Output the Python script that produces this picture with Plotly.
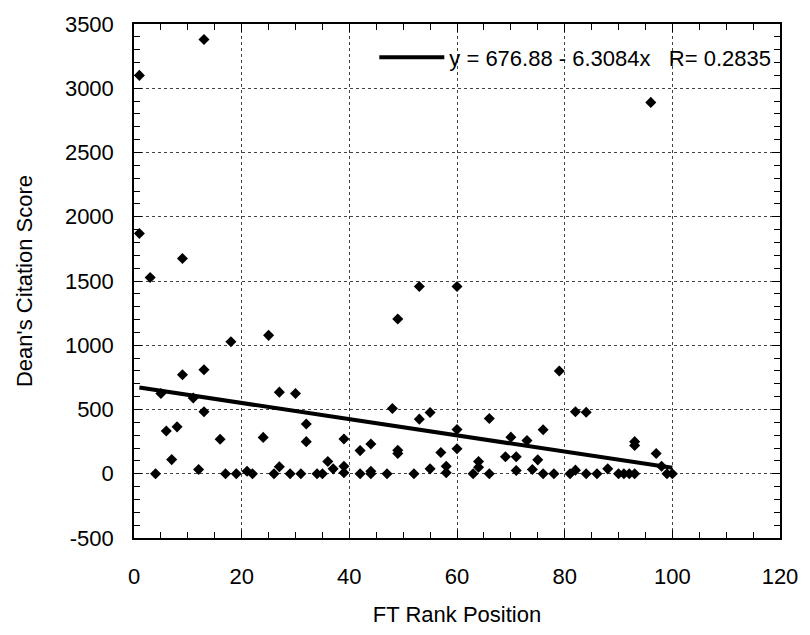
import plotly.graph_objects as go

# FT rank position (x) and Dean's citation score (y)
rank = [1, 1, 3, 4, 5, 6, 7, 8, 9, 9, 11, 12, 13, 13, 13, 16, 17, 18, 19, 21,
        22, 24, 25, 26, 27, 27, 29, 30, 31, 32, 32, 34, 35, 36, 37, 39, 39, 39,
        42, 42, 44, 44, 44, 47, 48, 49, 49, 49, 52, 53, 53, 55, 55, 57, 58, 58,
        60, 60, 60, 63, 64, 64, 66, 66, 69, 70, 71, 71, 73, 74, 75, 76, 76, 78,
        79, 81, 82, 82, 84, 84, 86, 88, 90, 91, 92, 93, 93, 93, 96, 97, 98, 99, 100]
score = [3100, 1870, 1527, 0, 625, 333, 110, 365, 1675, 770, 590, 33, 3380, 810, 483,
         268, 0, 1027, 0, 20, 0, 283, 1077, 0, 635, 55, 0, 625, 0, 387, 250, 0, 0,
         95, 38, 270, 58, 8, 180, 0, 232, 20, 0, 0, 508, 1205, 183, 158, 0, 1457,
         425, 477, 38, 165, 58, 8, 1457, 345, 195, 0, 95, 50, 430, 0, 133, 285, 133,
         25, 258, 33, 108, 342, 0, 0, 800, 0, 483, 28, 478, 0, 0, 38, 0, 0, 0, 250,
         220, 0, 2890, 157, 58, 0, 0]

# Linear fit shown on the chart
fit_intercept = 676.88
fit_slope = -6.3084
fit_r = 0.2835

x_ticks = [0, 20, 40, 60, 80, 100, 120]
y_ticks = [-500, 0, 500, 1000, 1500, 2000, 2500, 3000, 3500]

fit_x = [min(rank), max(rank)]
fit_y = [fit_intercept + fit_slope * v for v in fit_x]

FONT = "Liberation Sans, Arial, sans-serif"
FS = 22

fig = go.Figure()
fig.add_trace(go.Scatter(
    x=rank, y=score, mode="markers",
    marker=dict(symbol="diamond", size=8.5, color="black"),
    showlegend=False, hoverinfo="x+y"))
fig.add_trace(go.Scatter(
    x=fit_x, y=fit_y, mode="lines",
    line=dict(color="black", width=4),
    name=f"y = {fit_intercept:.2f} - {abs(fit_slope):.4f}x   R= {fit_r:.4f}",
    showlegend=True))

axis_common = dict(
    showline=True, linecolor="black", linewidth=1.5, mirror="allticks",
    ticks="inside", tickcolor="black", ticklen=8, tickwidth=1,
    showgrid=True, gridcolor="#444444", gridwidth=1, griddash="3px,3px",
    zeroline=False,
    tickfont=dict(family=FONT, size=FS, color="black"),
)

fig.update_xaxes(
    **axis_common,
    range=[0, 120], tickvals=x_ticks, ticktext=[str(v) for v in x_ticks],
    minor=dict(dtick=5, tick0=0, ticks="inside", ticklen=6, tickcolor="black", showgrid=False),
    ticklabelstandoff=18,
    title=dict(text="FT Rank Position", font=dict(family=FONT, size=FS, color="black"), standoff=18),
)
fig.update_yaxes(
    **axis_common,
    range=[-500, 3500], tickvals=y_ticks, ticktext=[str(v) for v in y_ticks],
    minor=dict(dtick=100, tick0=0, ticks="inside", ticklen=6, tickcolor="black", showgrid=False),
    ticklabelstandoff=14,
    title=dict(text="Dean's Citation Score", font=dict(family=FONT, size=FS, color="black"), standoff=26),
)

fig.update_layout(
    width=810, height=635,
    margin=dict(l=134, r=22, t=15, b=85),
    paper_bgcolor="white", plot_bgcolor="white",
    font=dict(family=FONT, size=FS, color="black"),
    legend=dict(x=0.372, y=0.935, xanchor="left", yanchor="middle",
                bgcolor="rgba(0,0,0,0)", borderwidth=0,
                itemwidth=65, font=dict(family=FONT, size=FS, color="black")),
)

fig.write_html("out.html")
